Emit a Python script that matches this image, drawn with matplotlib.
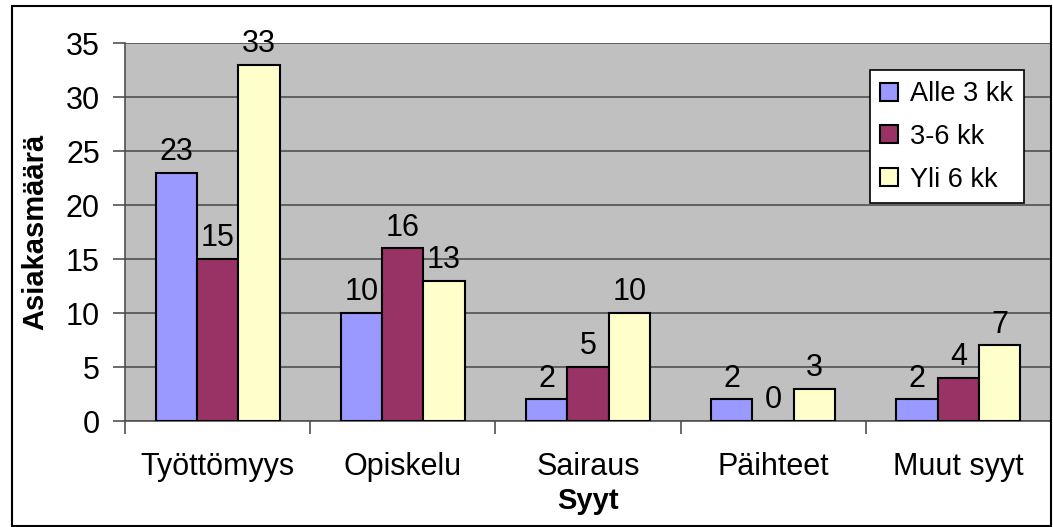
import numpy as np
import matplotlib.pyplot as plt
from matplotlib.patches import Rectangle

plt.rcParams['font.family'] = ['Liberation Sans', 'DejaVu Sans']

categories = ["Työttömyys", "Opiskelu", "Sairaus", "Päihteet", "Muut syyt"]
series_names = ["Alle 3 kk", "3-6 kk", "Yli 6 kk"]
alle_3 = [23, 10, 2, 2, 2]
kk_3_6 = [15, 16, 5, 0, 4]
yli_6 = [33, 13, 10, 3, 7]
colors = ["#9999FF", "#993366", "#FFFFCC"]

fig = plt.figure(figsize=(10.53, 5.27), dpi=100)
ax = fig.add_axes([0.1187, 0.2011, 0.998 - 0.1187, 0.9184 - 0.2011])
ax.set_facecolor("#C0C0C0")

x = np.arange(len(categories))
w = 0.223
for i, (vals, name) in enumerate(zip([alle_3, kk_3_6, yli_6], series_names)):
    pos = x + (i - 1) * w
    ax.bar(pos, vals, width=w, color=colors[i], edgecolor="black", linewidth=1.5,
           label=name, zorder=3)
    for px, v in zip(pos, vals):
        ax.annotate(str(v), (px, v), xytext=(0, 4), textcoords="offset points",
                    ha="center", va="bottom", fontsize=22)

ax.set_ylim(0, 35)
ax.set_xlim(-0.5, 4.5)
ax.set_yticks(range(0, 36, 5))
ax.yaxis.grid(True, color="#505050", linewidth=1.2, zorder=0)
ax.set_axisbelow(True)

ax.set_xticks(x)
ax.set_xticklabels(categories)
ax.set_xticks(np.arange(-0.5, 5.0, 1.0), minor=True)
ax.tick_params(axis="x", which="major", length=0, pad=22, labelsize=22)
ax.tick_params(axis="x", which="minor", length=9, width=1.2, color="#505050", direction="out")
ax.tick_params(axis="y", length=9, width=1.2, color="#505050", direction="out", labelsize=22, pad=9)

for s in ["top", "right"]:
    ax.spines[s].set_visible(False)
ax.spines["left"].set_color("#505050")
ax.spines["bottom"].set_color("#505050")
ax.spines["left"].set_linewidth(1.2)
ax.spines["bottom"].set_linewidth(1.2)

ax.set_xlabel("Syyt", fontsize=21, fontweight="bold", labelpad=4)
ax.set_ylabel("Asiakasmäärä", fontsize=21, fontweight="bold", labelpad=12)

# legend box sits in the upper right of the plot area, like Excel places it
leg = ax.legend(loc="upper right", bbox_to_anchor=(0.971, 0.928), borderaxespad=0,
                fontsize=19.5, frameon=True, fancybox=False, edgecolor="black",
                facecolor="white", framealpha=1, handlelength=0.65, handleheight=0.65,
                handletextpad=0.45, labelspacing=0.62, borderpad=0.4)
leg.get_frame().set_linewidth(1.2)
for h in leg.legend_handles:
    h.set_linewidth(1.5)

fig.patches.append(Rectangle((12 / 1053, 0.002), 1 - 12 / 1053 - 0.002, 1 - 6 / 527 - 0.002,
                             transform=fig.transFigure, fill=False, edgecolor="black",
                             linewidth=1.5))

fig.savefig("out.png", dpi=100)
